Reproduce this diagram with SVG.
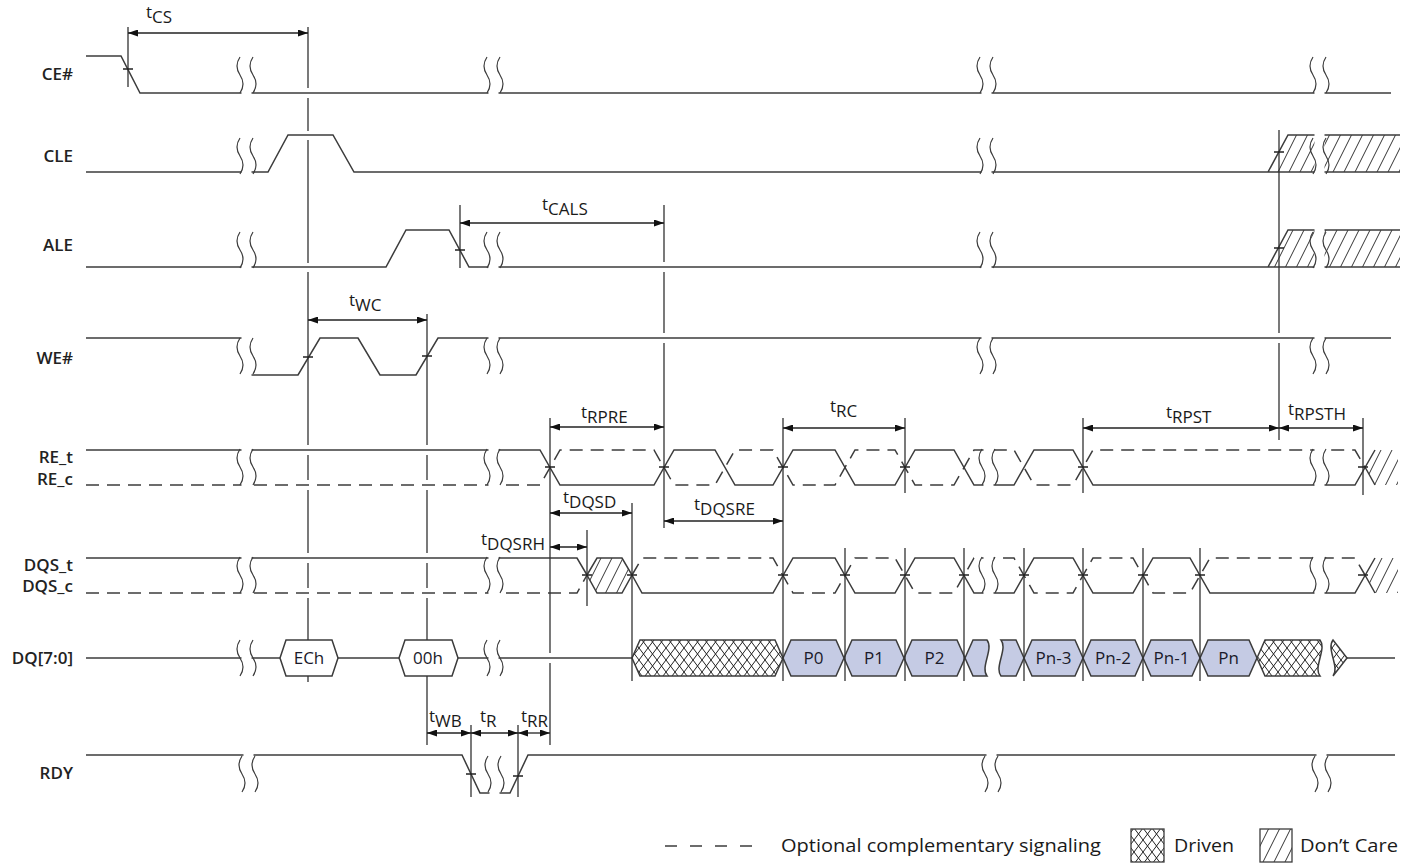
<svg xmlns="http://www.w3.org/2000/svg" width="1411" height="865" viewBox="0 0 1411 865">
<style>
.s{fill:none;stroke:#3c3c3c;stroke-width:1.5}
.d{fill:none;stroke:#3c3c3c;stroke-width:1.5;stroke-dasharray:13 8}
.v{fill:none;stroke:#333;stroke-width:1.3}
.a{fill:none;stroke:#222;stroke-width:1.3;marker-start:url(#ah);marker-end:url(#ah)}
.tk{fill:none;stroke:#222;stroke-width:1.3}
.lbl{font-family:"Open Sans","Noto Sans",sans-serif;font-size:17px;font-weight:600;fill:#222;text-anchor:end}
.tm{font-family:"Open Sans","Noto Sans",sans-serif;font-size:17px;fill:#1a1a1a}
.hx{fill:#c5cbe4;stroke:#3c3c3c;stroke-width:1.5}
.wh{fill:#fff;stroke:#3c3c3c;stroke-width:1.5}
.dr{fill:url(#xh);stroke:#3c3c3c;stroke-width:1.5}
.dcf{fill:url(#dc);stroke:none}
.ht{font-family:"Open Sans","Noto Sans",sans-serif;font-size:17px;fill:#1a1a2a;text-anchor:middle}
.lg{font-family:"Open Sans","Noto Sans",sans-serif;font-size:19px;fill:#1a1a1a}
</style>
<defs>
<marker id="ah" viewBox="0 0 10 7" refX="10" refY="3.5" markerWidth="10" markerHeight="7" markerUnits="userSpaceOnUse" orient="auto-start-reverse"><path d="M0,0 L10,3.5 L0,7 z" fill="#111"/></marker>
<pattern id="xh" patternUnits="userSpaceOnUse" width="9" height="12"><rect width="9" height="12" fill="#fff"/><path d="M0,0 L9,12 M9,0 L0,12" stroke="#222" stroke-width="1"/></pattern>
<pattern id="dc" patternUnits="userSpaceOnUse" width="11" height="22"><path d="M0,22 L11,0 M-2,4 L0,0 M11,22 L13,18" stroke="#333" stroke-width="1"/></pattern>
<g id="brk"><rect x="1.5" y="-22" width="10" height="44" fill="#fff"/><path d="M0,-18 c-4,6 -4,12 0,18 c4,6 4,12 0,18 M13,-18 c-4,6 -4,12 0,18 c4,6 4,12 0,18" fill="none" stroke="#3c3c3c" stroke-width="1.2"/></g>
</defs>
<rect width="1411" height="865" fill="#fff"/>

<g id="ce">
<text class="lbl" x="73" y="80">CE#</text>
<path class="s" d="M86,56 H121 L140,93 H1391"/>
<use href="#brk" x="240" y="75"/><use href="#brk" x="487" y="75"/><use href="#brk" x="980" y="75"/><use href="#brk" x="1313" y="75"/>
</g>

<g id="cle">
<text class="lbl" x="73" y="162">CLE</text>
<polygon class="dcf" points="1268,172 1288,135 1400,135 1400,172"/>
<path class="s" d="M86,172 H268 L288,135 H333 L354,172 H1400 M1268,172 L1288,135 H1400"/>
<use href="#brk" x="240" y="156"/><use href="#brk" x="980" y="156"/><use href="#brk" x="1313" y="156"/>
</g>

<g id="ale">
<text class="lbl" x="73" y="251">ALE</text>
<polygon class="dcf" points="1268,267 1288,230 1400,230 1400,267"/>
<path class="s" d="M86,267 H386 L406,230 H449 L469,267 H1400 M1268,267 L1288,230 H1400"/>
<use href="#brk" x="240" y="250"/><use href="#brk" x="487" y="250"/><use href="#brk" x="980" y="250"/><use href="#brk" x="1313" y="250"/>
</g>

<g id="we">
<text class="lbl" x="73" y="364">WE#</text>
<path class="s" d="M86,338 H247 M247,375 H298 L320,338 H358 L380,375 H416 L438,338 H1391"/>
<use href="#brk" x="240" y="356"/><use href="#brk" x="487" y="356"/><use href="#brk" x="980" y="356"/><use href="#brk" x="1313" y="356"/>
</g>

<g id="re">
<text class="lbl" x="73" y="463">RE_t</text>
<text class="lbl" x="73" y="485">RE_c</text>
<polygon class="dcf" points="1365,467 1375,450 1398,450 1398,485 1375,485"/>
<path class="s" d="M86,450 H540 L560,485 H654 L674,450 H715 L735,485 H773 L793,450 H835 L855,485 H895 L915,450 H954 L974,485 H1014 L1034,450 H1073 L1093,485 H1355 L1375,450 M1365,467 L1375,485"/>
<path class="d" d="M86,485 H540 L560,450 H654 L674,485 H715 L735,450 H773 L793,485 H835 L855,450 H895 L915,485 H954 L974,450 H1014 L1034,485 H1073 L1093,450 H1355 L1365,467"/>
<use href="#brk" x="240" y="467"/><use href="#brk" x="487" y="467"/><use href="#brk" x="982" y="467"/><use href="#brk" x="1313" y="467"/>
</g>

<g id="dqs">
<text class="lbl" x="73" y="571">DQS_t</text>
<text class="lbl" x="73" y="592">DQS_c</text>
<polygon class="dcf" points="1365,575 1375,558 1398,558 1398,593 1375,593"/>
<polygon fill="url(#dc)" stroke="#3c3c3c" stroke-width="1.5" points="587,575 597,558 622,558 632,575 622,593 597,593"/>
<path class="s" d="M86,558 H577 L587,575 M632,575 L642,593 H773 L793,558 H835 L855,593 H895 L915,558 H954 L974,593 H1014 L1034,558 H1073 L1093,593 H1133 L1153,558 H1190 L1210,593 H1355 L1375,558 M1365,575 L1375,593"/>
<path class="d" d="M86,593 H577 L587,575 M632,575 L642,558 H773 L793,593 H835 L855,558 H895 L915,593 H954 L974,558 H1014 L1034,593 H1073 L1093,558 H1133 L1153,593 H1190 L1210,558 H1355 L1365,575"/>
<use href="#brk" x="240" y="575"/><use href="#brk" x="487" y="575"/><use href="#brk" x="982" y="575"/><use href="#brk" x="1313" y="575"/>
</g>

<g id="dq">
<text class="lbl" x="73" y="664">DQ[7:0]</text>
<path class="s" d="M86,658 H280 M338,658 H399 M458,658 H632 M1347,658 H1395"/>
<use href="#brk" x="240" y="658"/><use href="#brk" x="487" y="658"/>
<polygon class="wh" points="280,658 286,640 332,640 338,658 332,676 286,676"/>
<text class="ht" x="309" y="664">ECh</text>
<polygon class="wh" points="399,658 405,640 452,640 458,658 452,676 405,676"/>
<text class="ht" x="428" y="664">00h</text>
<polygon class="dr" points="632,658 640,640 775,640 783,658 775,676 640,676"/>
<polygon class="hx" points="783,658 791,640 836,640 844,658 836,676 791,676"/>
<text class="ht" x="813.5" y="664">P0</text>
<polygon class="hx" points="844,658 852,640 896,640 904,658 896,676 852,676"/>
<text class="ht" x="874" y="664">P1</text>
<polygon class="hx" points="904,658 912,640 957,640 965,658 957,676 912,676"/>
<text class="ht" x="934.5" y="664">P2</text>
<path class="hx" d="M965,658 L973,640 H987 C994,649 980,667 987,676 H973 Z"/>
<path class="hx" d="M1001,640 H1016 L1024,658 L1016,676 H1001 C994,667 1008,649 1001,640 Z"/>
<polygon class="hx" points="1024,658 1032,640 1075,640 1083,658 1075,676 1032,676"/>
<text class="ht" x="1053.5" y="664">Pn-3</text>
<polygon class="hx" points="1083,658 1091,640 1135,640 1143,658 1135,676 1091,676"/>
<text class="ht" x="1113" y="664">Pn-2</text>
<polygon class="hx" points="1143,658 1151,640 1192,640 1200,658 1192,676 1151,676"/>
<text class="ht" x="1171.5" y="664">Pn-1</text>
<polygon class="hx" points="1200,658 1208,640 1249,640 1257,658 1249,676 1208,676"/>
<text class="ht" x="1228.5" y="664">Pn</text>
<path class="dr" d="M1257,658 L1265,640 H1320 C1327,649 1313,667 1320,676 H1265 Z"/>
<path class="dr" d="M1333,640 L1347,658 L1333,676 C1340,667 1326,649 1333,640 Z"/>
</g>

<g id="rdy">
<text class="lbl" x="73" y="779">RDY</text>
<path class="s" d="M86,755 H462 L480,793 H510 L528,755 H1395"/>
<use href="#brk" x="242" y="774"/><use href="#brk" x="488" y="774"/><use href="#brk" x="985" y="774"/><use href="#brk" x="1315" y="774"/>
</g>

<g id="connectors">
<path class="v" d="M128,27 V87
M308,27 V88 M308,98 V131 M308,140 V263 M308,272 V445 M308,455 V480 M308,490 V553 M308,563 V588 M308,598 V640 M308,676 V682
M427,314 V445 M427,455 V480 M427,490 V553 M427,563 V588 M427,598 V640 M427,676 V745
M460,205 V268
M664,205 V262 M664,272 V333 M664,343 V528
M550,418 V653 M550,663 V745
M587,530 V606
M632,503 V681
M783,418 V681
M845,548 V681
M905,418 V493 M905,548 V681
M964,548 V681
M1024,548 V681
M1083,418 V493 M1083,548 V681
M1143,548 V681
M1200,548 V681
M1279,130 V333 M1279,343 V440
M1363,418 V495
M471,725 V797
M518,725 V797"/>
<path class="tk" d="M123,69 H133 M1274,152 H1284 M455,250 H465 M1274,248 H1284 M303,357 H313 M422,356 H432
M545,467 H555 M659,467 H669 M778,467 H788 M900,467 H910 M1078,467 H1088 M1358,467 H1368
M582,575 H592 M627,575 H637 M778,575 H788 M840,575 H850 M900,575 H910 M959,575 H969 M1019,575 H1029 M1078,575 H1088 M1138,575 H1148 M1195,575 H1205 M1358,575 H1368
M466,774 H476 M513,776 H523"/>
<path class="a" d="M128,33 H308"/>
<path class="a" d="M460,223 H664"/>
<path class="a" d="M308,320 H427"/>
<path class="a" d="M550,427 H664"/>
<path class="a" d="M783,428 H905"/>
<path class="a" d="M1083,428 H1279"/>
<path class="a" d="M1279,428 H1363"/>
<path class="a" d="M550,513 H632"/>
<path class="a" d="M664,521 H783"/>
<path class="a" d="M550,547 H587"/>
<path class="a" d="M427,733 H471"/>
<path class="a" d="M471,733 H518"/>
<path class="a" d="M518,733 H550"/>
<text class="tm" x="146" y="18">t<tspan dy="5">CS</tspan></text>
<text class="tm" x="542" y="210">t<tspan dy="5">CALS</tspan></text>
<text class="tm" x="349" y="306">t<tspan dy="5">WC</tspan></text>
<text class="tm" x="581" y="418">t<tspan dy="5">RPRE</tspan></text>
<text class="tm" x="830" y="412">t<tspan dy="5">RC</tspan></text>
<text class="tm" x="1166" y="418">t<tspan dy="5">RPST</tspan></text>
<text class="tm" x="1288" y="415">t<tspan dy="5">RPSTH</tspan></text>
<text class="tm" x="563" y="503">t<tspan dy="5">DQSD</tspan></text>
<text class="tm" x="694" y="510">t<tspan dy="5">DQSRE</tspan></text>
<text class="tm" x="481" y="545">t<tspan dy="5">DQSRH</tspan></text>
<text class="tm" x="429" y="722">t<tspan dy="5">WB</tspan></text>
<text class="tm" x="480" y="722">t<tspan dy="5">R</tspan></text>
<text class="tm" x="521" y="722">t<tspan dy="5">RR</tspan></text>
</g>

<g id="legend">
<path d="M665,846 H752" fill="none" stroke="#3c3c3c" stroke-width="1.5" stroke-dasharray="12 13"/>
<text class="lg" x="781" y="852" textLength="320" lengthAdjust="spacingAndGlyphs">Optional complementary signaling</text>
<rect x="1131" y="829" width="33" height="33" fill="url(#xh)" stroke="#3c3c3c" stroke-width="1.3"/>
<text class="lg" x="1174" y="852" textLength="60" lengthAdjust="spacingAndGlyphs">Driven</text>
<rect x="1260" y="829" width="32" height="33" fill="url(#dc)" stroke="#3c3c3c" stroke-width="1.3"/>
<text class="lg" x="1300" y="852" textLength="98" lengthAdjust="spacingAndGlyphs">Don’t Care</text>
</g>
</svg>
